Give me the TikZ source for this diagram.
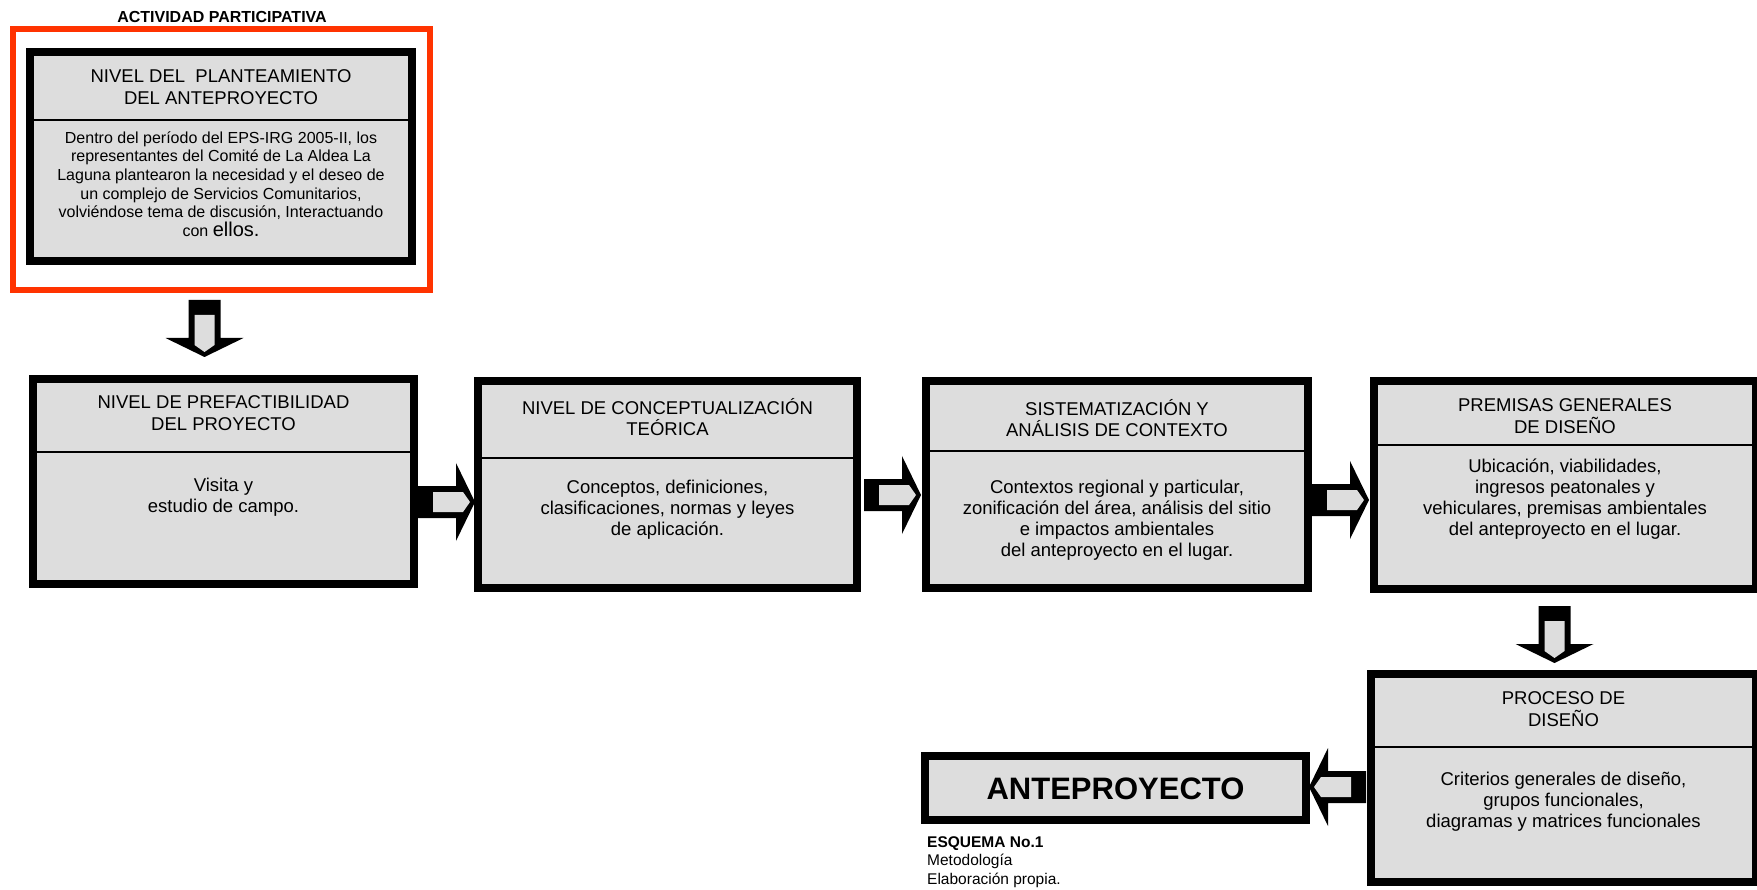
\documentclass[tikz,border=0pt]{standalone}
\usepackage{fontspec}
\setmainfont{Liberation Sans}
\definecolor{boxgray}{RGB}{221,221,221}
\definecolor{redline}{RGB}{255,51,0}
\tikzset{
  boxst/.style={draw=black, line width=8pt, fill=boxgray, inner sep=0pt, outer sep=0pt, rectangle},
  divst/.style={draw=black, line width=1.5pt},
  ttl/.style={align=center, font=\fontsize{18.5}{21.5}\selectfont, inner sep=0pt},
  bdy/.style={align=center, font=\fontsize{18.5}{21}\selectfont, inner sep=0pt},
  blockarrow/.pic={
    \fill[black] (0,-16) -- (38,-16) -- (38,-39) -- (57,0) -- (38,39) -- (38,16) -- (0,16) -- cycle;
    \fill[boxgray] (15,-10) -- (45,-10) -- (52,0) -- (45,10) -- (15,10) -- cycle;
  }
}
\begin{document}
\begin{tikzpicture}[x=1pt,y=-1pt]
\useasboundingbox (0,0) rectangle (1757,890);
\fill[white] (0,0) rectangle (1757,890);

% title above the red frame
\node[inner sep=0pt, font=\bfseries\fontsize{16}{18}\selectfont] (act) at (222,17) {ACTIVIDAD PARTICIPATIVA};
\node[draw=redline, line width=6pt, inner sep=0pt, minimum width=417, minimum height=261] (frame) at (221.5,159.5) {};

% boxes
\node[boxst, minimum width=382, minimum height=209] (b1) at (221,156.5) {};
\node[boxst, minimum width=381, minimum height=205] (b2) at (223.5,481.5) {};
\node[boxst, minimum width=379, minimum height=207] (b3) at (667.5,484.5) {};
\node[boxst, minimum width=382, minimum height=207] (b4) at (1117,484.5) {};
\node[boxst, minimum width=382, minimum height=208] (b5) at (1565,485) {};
\node[boxst, minimum width=385, minimum height=208] (b6) at (1563.5,778) {};
\node[boxst, minimum width=381, minimum height=64] (ante) at (1115.5,788) {};

% dividers
\draw[divst] (b1.west |- 0,120) -- (b1.east |- 0,120);
\draw[divst] (b2.west |- 0,452) -- (b2.east |- 0,452);
\draw[divst] (b3.west |- 0,458) -- (b3.east |- 0,458);
\draw[divst] (b4.west |- 0,451) -- (b4.east |- 0,451);
\draw[divst] (b5.west |- 0,445) -- (b5.east |- 0,445);
\draw[divst] (b6.west |- 0,747) -- (b6.east |- 0,747);

% texts
\node[ttl] (b1t) at (221,87) {NIVEL DEL~~PLANTEAMIENTO\\DEL ANTEPROYECTO};
\node[align=center, inner sep=0pt, font=\fontsize{16}{18.6}\selectfont] (b1b) at (221,184)
  {Dentro del período del EPS-IRG 2005-II, los\\representantes del Comité de La Aldea La\\Laguna plantearon la necesidad y el deseo de\\un complejo de Servicios Comunitarios,\\volviéndose tema de discusión, Interactuando\\con {\fontsize{20}{18.6}\selectfont ellos.}};

\node[ttl] (b2t) at (223.5,413) {NIVEL DE PREFACTIBILIDAD\\DEL PROYECTO};
\node[bdy] (b2b) at (223.5,497) {Visita y\\estudio de campo.};

\node[ttl] (b3t) at (667.5,417) {NIVEL DE CONCEPTUALIZACIÓN\\TEÓRICA};
\node[bdy] (b3b) at (667.5,509.5) {Conceptos, definiciones,\\clasificaciones, normas y leyes\\de aplicación.};

\node[ttl] (b4t) at (1117,418) {SISTEMATIZACIÓN Y\\ANÁLISIS DE CONTEXTO};
\node[bdy] (b4b) at (1117,520) {Contextos regional y particular,\\zonificación del área, análisis del sitio\\e impactos ambientales\\del anteproyecto en el lugar.};

\node[ttl] (b5t) at (1565,416) {PREMISAS GENERALES\\DE DISEÑO};
\node[bdy] (b5b) at (1565,499) {Ubicación, viabilidades,\\ingresos peatonales y\\vehiculares, premisas ambientales\\del anteproyecto en el lugar.};

\node[ttl] (b6t) at (1563.5,709) {PROCESO DE\\DISEÑO};
\node[bdy] (b6b) at (1563.5,802) {Criterios generales de diseño,\\grupos funcionales,\\diagramas y matrices funcionales};

\node[inner sep=0pt, font=\bfseries\fontsize{31}{36}\selectfont] (antet) at (1115.5,789) {ANTEPROYECTO};

\node[anchor=west, align=left, inner sep=0pt, font=\fontsize{15.5}{18.5}\selectfont] (esq) at (927,862)
  {\textbf{ESQUEMA No.1}\\Metodología\\Elaboración propia.};

% block arrows
\pic[rotate=-90] (a1) at (204.5,300) {blockarrow};
\pic (a2) at (418,502) {blockarrow};
\pic (a3) at (864,495) {blockarrow};
\pic (a4) at (1312,500) {blockarrow};
\pic[rotate=-90] (a5) at (1554.5,606) {blockarrow};
\pic[rotate=180] (a6) at (1366,787) {blockarrow};
\end{tikzpicture}
\end{document}
